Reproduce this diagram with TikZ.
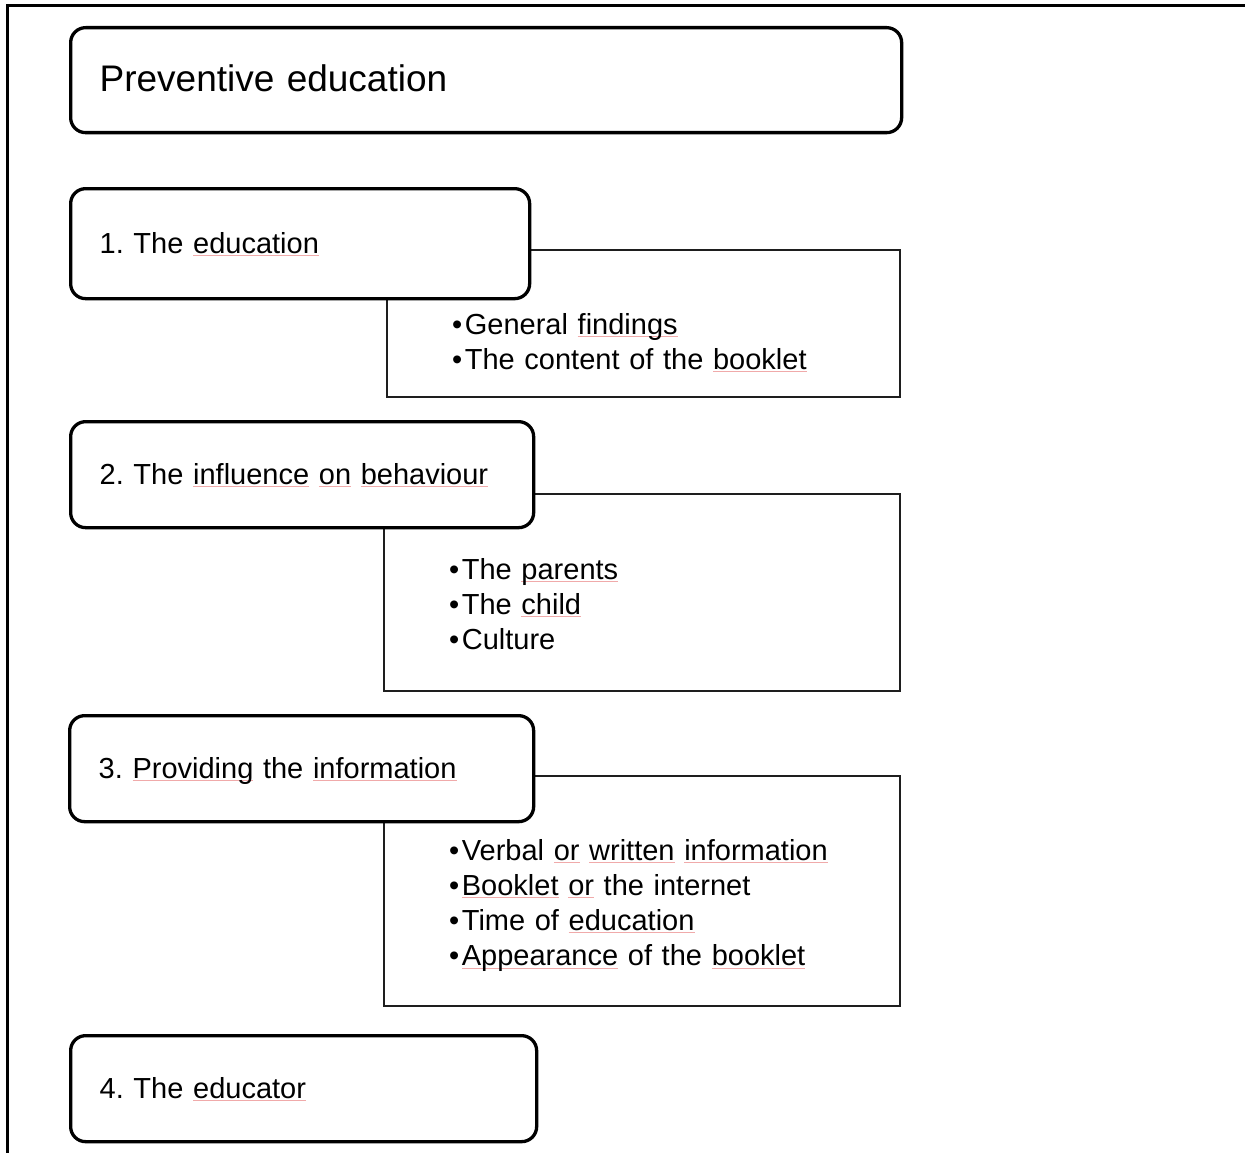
\documentclass[tikz,border=0pt]{standalone}
\usepackage{fontspec}
\setmainfont{Liberation Sans}
\frenchspacing
\definecolor{spellred}{RGB}{240,170,170}
\definecolor{detline}{RGB}{30,30,30}
\newcommand{\spchk}[1]{\setbox0=\hbox{#1}\rlap{\textcolor{spellred}{\rule[-2.5pt]{\wd0}{0.9pt}}}\box0\relax}
\newcommand{\bul}{•\kern2.5pt}
\begin{document}
\begin{tikzpicture}[x=1pt,y=-1pt,
  headbox/.style={draw, line width=3.3pt, rounded corners=15pt, fill=white,
    anchor=north west, inner xsep=29pt, inner ysep=0pt, align=left,
    font=\fontsize{29}{35}\selectfont, text height=23pt, text depth=4pt,
    minimum height=106pt},
  titlebox/.style={headbox, font=\fontsize{37}{44}\selectfont,
    text height=29pt, text depth=6pt, minimum height=105pt},
  detbox/.style={draw=detline, line width=1.7pt, anchor=north west, inner sep=0pt},
  listtext/.style={anchor=base west, inner sep=0pt, text width=440pt, align=left,
    font=\fontsize{29}{35.3}\selectfont}
]
\useasboundingbox (0,0) rectangle (1245,1153);
% outer frame (clipped)
\draw[line width=2.6pt] (7.5,1153) -- (7.5,5.5) -- (1245,5.5);

% detail boxes (drawn first, under the heading boxes)
\node[detbox, minimum width=513pt, minimum height=147pt] (d1) at (386,249) {};
\node[detbox, minimum width=516pt, minimum height=197pt] (d2) at (383,493) {};
\node[detbox, minimum width=516pt, minimum height=230pt] (d3) at (383,775) {};

\node[listtext] (l1) at (452,334) {\bul General \spchk{findings}\\\bul The content of the \spchk{booklet}};
\node[listtext] (l2) at (449,579) {\bul The \spchk{parents}\\\bul The \spchk{child}\\\bul Culture};
\node[listtext] (l3) at (449,860) {\bul Verbal \spchk{or} \spchk{written} \spchk{information}\\\bul\spchk{Booklet} \spchk{or} the internet\\\bul Time of \spchk{education}\\\bul\spchk{Appearance} of the \spchk{booklet}};

% title and heading boxes
\node[titlebox, text width=773pt] (title) at (69,26) {Preventive education};
\node[headbox, minimum height=110pt, text width=401pt] (h1) at (69,187) {1. The \spchk{education}};
\node[headbox, text width=405pt] (h2) at (69,420) {2. The \spchk{influence} \spchk{on} \spchk{behaviour}};
\node[headbox, text width=406pt] (h3) at (68,714) {3. \spchk{Providing} the \spchk{information}};
\node[headbox, text width=408pt] (h4) at (69,1034) {4. The \spchk{educator}};
\end{tikzpicture}
\end{document}
